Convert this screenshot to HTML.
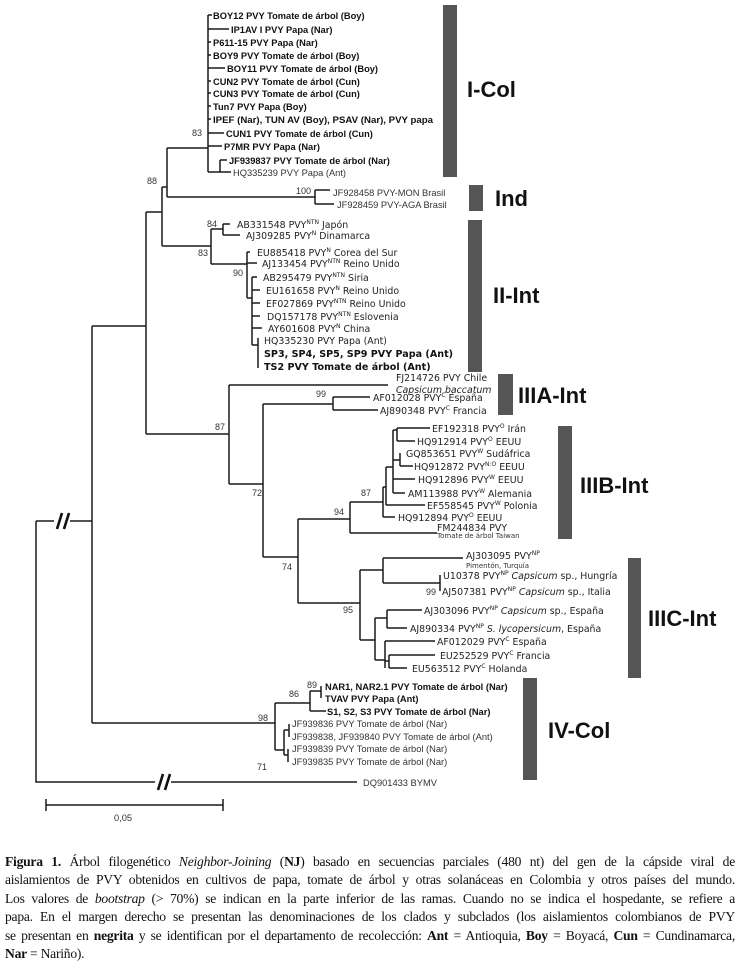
<!DOCTYPE html>
<html><head><meta charset="utf-8"><style>
html,body{margin:0;padding:0;background:#fff;width:740px;height:959px;overflow:hidden}
svg{position:absolute;left:0;top:0}
.b{font-family:"Liberation Sans",Arial,sans-serif;font-weight:bold;font-size:9.3px;fill:#111}
.n{font-family:"Liberation Sans",Arial,sans-serif;font-size:9.3px;fill:#333}
.d{font-family:"DejaVu Sans",sans-serif;font-size:9.4px;fill:#222}
.db{font-family:"DejaVu Sans",sans-serif;font-size:9.6px;font-weight:bold;fill:#111}
.s{font-family:"DejaVu Sans",sans-serif;font-size:7px;fill:#333}
.bs{font-family:"Liberation Sans",Arial,sans-serif;font-size:9px;fill:#333}
.cl{font-family:"Liberation Sans",Arial,sans-serif;font-weight:bold;font-size:22px;fill:#111}
.cap{position:absolute;left:5px;width:730px;font-family:"Liberation Serif","Times New Roman",serif;font-size:13.6px;color:#111;letter-spacing:-0.25px;line-height:18.4px}
.cap div{text-align:justify;text-align-last:justify;white-space:nowrap;height:18.4px;overflow:visible}
.cap div.l{text-align-last:left}
</style></head><body>
<svg width="740" height="850" viewBox="0 0 740 850">
<g stroke="#1a1a1a" stroke-width="1.5" fill="none">
<!-- root -->
<path d="M36 521 V782 H155 M171 782 H357"/>
<path d="M36 521 H54 M70 521 H92"/>
<path d="M92 326 V723"/>
<path d="M92 326 H146 M146 212 V434 M146 212 H162 M162 187 V246 M162 187 H167 M167 148 V197 M167 148 H208"/>
<!-- I-Col -->
<path d="M208 15 V172 M208 15 H212 M208 29 H229 M208 42 H211 M208 55 H211 M208 68 H225 M208 81 H211 M208 93 H211 M208 106 H211 M208 119 H211 M208 133 H224 M208 146 H222 M208 172 H220 M220 160 V172 M220 160 H227 M220 172 H231"/>
<!-- Ind -->
<path d="M167 197 H315 M315 190 V204 M315 190 H330 M315 204 H334"/>
<!-- II-Int -->
<path d="M162 246 H211 M211 229 V264 M211 229 H223 M223 224 V235 M223 224 H230 M223 235 H240 M211 264 H247 M247 252 V298 M247 252 H250 M247 263 H257 M247 298 H252 M252 277 V345 M252 277 H257 M252 290 H260 M252 303 H260 M252 316 H260 M252 328 H262 M252 345 H258 M258 338 V368"/>
<!-- III -->
<path d="M146 434 H229 M229 385 V484 M229 385 H388 M229 484 H263 M263 404 V557 M263 404 H333 M333 397 V410 M333 397 H370 M333 410 H378"/>
<path d="M263 557 H298 M298 519 V603 M298 519 H350 M350 502 V533 M350 533 H437 M350 502 H383 M383 487 V517 M383 517 H395 M383 487 H386 M386 467 V505 M386 505 H425 M386 467 H393 M393 430 V493 M393 493 H405 M393 479 H415 M393 460 H400 M400 453 V466 M400 466 H413 M393 430 H397 M397 428 V441 M397 428 H430 M397 441 H415"/>
<path d="M298 603 H360 M360 570 V640 M360 570 H383 M383 558 V583 M383 558 H463 M383 583 H440 M440 575 V591 M360 640 H375 M375 618 V660 M375 618 H387 M387 610 V628 M387 610 H422 M387 628 H407 M375 660 H385 M385 641 V668 M385 641 H435 M385 661 H389 M389 655 V668 M389 655 H435 M389 668 H407"/>
<!-- IV-Col -->
<path d="M92 723 H275 M275 703 V750 M275 703 H310 M310 691 V711 M310 691 H321 M321 686 V698 M310 711 H326 M275 750 H284 M284 730 V755 M284 730 H289 M289 724 V737 M284 755 H288 M288 749 V762"/>
<!-- scale -->
<path d="M46 805 H223 M46 799 V811 M223 799 V811"/>
</g>
<g stroke="#111" stroke-width="2.6">
<path d="M57 529 L62 513 M64 529 L69 513"/>
<path d="M158 790 L163 774 M165 790 L170 774"/>
</g>
<!-- clade bars -->
<g fill="#555">
<rect x="443" y="5" width="14" height="172"/>
<rect x="469" y="185" width="14" height="26"/>
<rect x="468" y="220" width="14" height="152"/>
<rect x="498" y="374" width="15" height="41"/>
<rect x="558" y="426" width="14" height="113"/>
<rect x="628" y="558" width="13" height="120"/>
<rect x="523" y="678" width="14" height="102"/>
</g>
<text class="cl" x="467" y="97">I-Col</text>
<text class="cl" x="495" y="206">Ind</text>
<text class="cl" x="493" y="303">II-Int</text>
<text class="cl" x="518" y="403">IIIA-Int</text>
<text class="cl" x="580" y="493">IIIB-Int</text>
<text class="cl" x="648" y="626">IIIC-Int</text>
<text class="cl" x="548" y="738">IV-Col</text>
<!-- I-Col labels -->
<text class="b" x="213" y="19">BOY12 PVY Tomate de árbol (Boy)</text>
<text class="b" x="231" y="33">IP1AV I  PVY Papa (Nar)</text>
<text class="b" x="213" y="46">P611-15  PVY Papa (Nar)</text>
<text class="b" x="213" y="59">BOY9 PVY Tomate de árbol (Boy)</text>
<text class="b" x="227" y="72">BOY11 PVY Tomate de árbol (Boy)</text>
<text class="b" x="213" y="85">CUN2 PVY Tomate de árbol (Cun)</text>
<text class="b" x="213" y="97">CUN3 PVY Tomate de árbol (Cun)</text>
<text class="b" x="213" y="110">Tun7 PVY Papa (Boy)</text>
<text class="b" x="213" y="123" textLength="220" lengthAdjust="spacingAndGlyphs">IPEF (Nar),  TUN AV (Boy), PSAV (Nar), PVY papa</text>
<text class="b" x="226" y="137">CUN1 PVY Tomate de árbol (Cun)</text>
<text class="b" x="224" y="150">P7MR PVY Papa (Nar)</text>
<text class="b" x="229" y="164">JF939837 PVY Tomate de árbol (Nar)</text>
<text class="n" x="233" y="176">HQ335239 PVY Papa (Ant)</text>
<text class="bs" x="192" y="136">83</text>
<text class="bs" x="147" y="184">88</text>
<text class="bs" x="296" y="194">100</text>
<text class="n" x="333" y="196">JF928458 PVY-MON Brasil</text>
<text class="n" x="337" y="208">JF928459 PVY-AGA Brasil</text>
<!-- II-Int -->
<text class="bs" x="207" y="227">84</text>
<text class="bs" x="198" y="256">83</text>
<text class="bs" x="233" y="276">90</text>
<text class="d" x="237" y="228">AB331548 PVY<tspan font-size="6" dy="-4">NTN</tspan><tspan dy="4"> Japón</tspan></text>
<text class="d" x="246" y="239">AJ309285 PVY<tspan font-size="6" dy="-4">N</tspan><tspan dy="4"> Dinamarca</tspan></text>
<text class="d" x="257" y="256">EU885418 PVY<tspan font-size="6" dy="-4">N</tspan><tspan dy="4"> Corea del Sur</tspan></text>
<text class="d" x="262" y="267">AJ133454  PVY<tspan font-size="6" dy="-4">NTN</tspan><tspan dy="4"> Reino Unido</tspan></text>
<text class="d" x="263" y="281">AB295479  PVY<tspan font-size="6" dy="-4">NTN</tspan><tspan dy="4"> Siria</tspan></text>
<text class="d" x="266" y="294">EU161658  PVY<tspan font-size="6" dy="-4">N</tspan><tspan dy="4"> Reino Unido</tspan></text>
<text class="d" x="266" y="307">EF027869  PVY<tspan font-size="6" dy="-4">NTN</tspan><tspan dy="4"> Reino Unido</tspan></text>
<text class="d" x="267" y="320">DQ157178  PVY<tspan font-size="6" dy="-4">NTN</tspan><tspan dy="4"> Eslovenia</tspan></text>
<text class="d" x="268" y="332">AY601608  PVY<tspan font-size="6" dy="-4">N</tspan><tspan dy="4"> China</tspan></text>
<text class="d" x="264" y="344">HQ335230  PVY Papa (Ant)</text>
<text class="db" x="264" y="357">SP3, SP4, SP5, SP9  PVY Papa (Ant)</text>
<text class="db" x="264" y="370">TS2  PVY Tomate de árbol (Ant)</text>
<!-- IIIA -->
<text class="d" x="396" y="381" font-size="8.6">FJ214726  PVY Chile</text>
<text class="d" x="396" y="393" font-size="8.6" font-style="italic">Capsicum baccatum</text>
<text class="bs" x="316" y="397">99</text>
<text class="d" x="373" y="401">AF012028  PVY<tspan font-size="6" dy="-4">C</tspan><tspan dy="4"> España</tspan></text>
<text class="d" x="380" y="414">AJ890348  PVY<tspan font-size="6" dy="-4">C</tspan><tspan dy="4"> Francia</tspan></text>
<text class="bs" x="215" y="430">87</text>
<text class="bs" x="252" y="496">72</text>
<!-- IIIB -->
<text class="d" x="432" y="432">EF192318  PVY<tspan font-size="6" dy="-4">O</tspan><tspan dy="4"> Irán</tspan></text>
<text class="d" x="417" y="445">HQ912914  PVY<tspan font-size="6" dy="-4">O</tspan><tspan dy="4"> EEUU</tspan></text>
<text class="d" x="406" y="457">GQ853651  PVY<tspan font-size="6" dy="-4">W</tspan><tspan dy="4"> Sudáfrica</tspan></text>
<text class="d" x="414" y="470">HQ912872  PVY<tspan font-size="6" dy="-4">N:O</tspan><tspan dy="4"> EEUU</tspan></text>
<text class="d" x="418" y="483">HQ912896  PVY<tspan font-size="6" dy="-4">W</tspan><tspan dy="4"> EEUU</tspan></text>
<text class="d" x="408" y="497">AM113988  PVY<tspan font-size="6" dy="-4">W</tspan><tspan dy="4"> Alemania</tspan></text>
<text class="d" x="427" y="509">EF558545  PVY<tspan font-size="6" dy="-4">W</tspan><tspan dy="4"> Polonia</tspan></text>
<text class="d" x="398" y="521">HQ912894  PVY<tspan font-size="6" dy="-4">O</tspan><tspan dy="4"> EEUU</tspan></text>
<text class="d" x="437" y="531" font-size="8.5">FM244834 PVY</text>
<text class="s" x="437" y="538">Tomate de árbol Taiwan</text>
<text class="bs" x="361" y="496">87</text>
<text class="bs" x="334" y="515">94</text>
<text class="bs" x="282" y="570">74</text>
<!-- IIIC -->
<text class="d" x="466" y="559">AJ303095  PVY<tspan font-size="6" dy="-4">NP</tspan></text>
<text class="s" x="466" y="568">Pimentón, Turquía</text>
<text class="d" x="443" y="579">U10378  PVY<tspan font-size="6" dy="-4">NP</tspan><tspan dy="4" font-style="italic"> Capsicum</tspan><tspan> sp., Hungría</tspan></text>
<text class="d" x="442" y="595">AJ507381  PVY<tspan font-size="6" dy="-4">NP</tspan><tspan dy="4" font-style="italic"> Capsicum</tspan><tspan> sp., Italia</tspan></text>
<text class="bs" x="426" y="595">99</text>
<text class="bs" x="343" y="613">95</text>
<text class="d" x="424" y="614">AJ303096  PVY<tspan font-size="6" dy="-4">NP</tspan><tspan dy="4" font-style="italic"> Capsicum</tspan><tspan> sp., España</tspan></text>
<text class="d" x="410" y="632">AJ890334  PVY<tspan font-size="6" dy="-4">NP</tspan><tspan dy="4" font-style="italic"> S. lycopersicum</tspan><tspan>, España</tspan></text>
<text class="d" x="437" y="645">AF012029  PVY<tspan font-size="6" dy="-4">C</tspan><tspan dy="4"> España</tspan></text>
<text class="d" x="440" y="659">EU252529  PVY<tspan font-size="6" dy="-4">C</tspan><tspan dy="4"> Francia</tspan></text>
<text class="d" x="412" y="672">EU563512 PVY<tspan font-size="6" dy="-4">C</tspan><tspan dy="4"> Holanda</tspan></text>
<!-- IV-Col -->
<text class="bs" x="307" y="688">89</text>
<text class="bs" x="289" y="697">86</text>
<text class="bs" x="258" y="721">98</text>
<text class="bs" x="257" y="770">71</text>
<text class="b" x="325" y="690">NAR1, NAR2.1 PVY Tomate de árbol (Nar)</text>
<text class="b" x="325" y="702">TVAV PVY Papa (Ant)</text>
<text class="b" x="327" y="715">S1, S2, S3 PVY Tomate de árbol (Nar)</text>
<text class="n" x="292" y="727" font-size="8.6">JF939836 PVY Tomate de árbol (Nar)</text>
<text class="n" x="292" y="740" font-size="8.6">JF939838, JF939840 PVY Tomate de árbol (Ant)</text>
<text class="n" x="292" y="752" font-size="8.6">JF939839 PVY Tomate de árbol (Nar)</text>
<text class="n" x="292" y="765" font-size="8.6">JF939835 PVY Tomate de árbol (Nar)</text>
<text class="n" x="363" y="786">DQ901433 BYMV</text>
<text class="n" x="114" y="821" font-size="10.5">0,05</text>
</svg>
<div class="cap" style="top:853px">
<div><b>Figura 1.</b> Árbol filogenético <i>Neighbor-Joining</i> (<b>NJ</b>) basado en secuencias parciales (480 nt) del gen de la cápside viral de</div>
<div>aislamientos de PVY obtenidos en cultivos de papa, tomate de árbol y otras solanáceas en Colombia y otros países del mundo.</div>
<div>Los valores de <i>bootstrap</i> (&gt; 70%) se indican en la parte inferior de las ramas. Cuando no se indica el hospedante, se refiere a</div>
<div>papa. En el margen derecho se presentan las denominaciones de los clados y subclados (los aislamientos colombianos de PVY</div>
<div>se presentan en <b>negrita</b> y se identifican por el departamento de recolección: <b>Ant</b> = Antioquia, <b>Boy</b> = Boyacá, <b>Cun</b> = Cundinamarca,</div>
<div class="l"><b>Nar</b> = Nariño).</div>
</div>
</body></html>
